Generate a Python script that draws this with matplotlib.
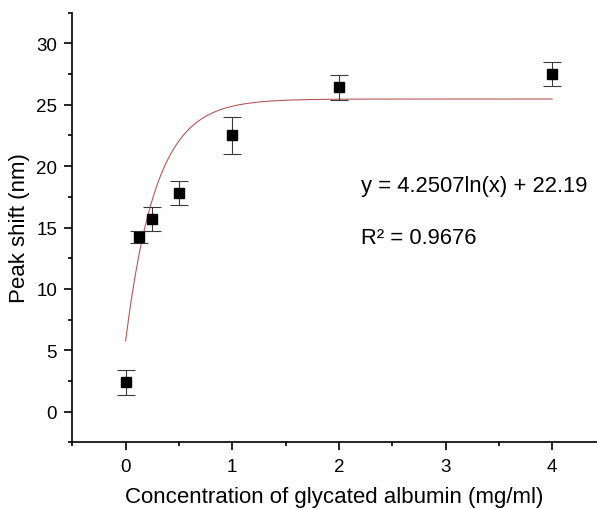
#!/usr/bin/env python
# -*- coding: utf-8 -*-

"""
Peak shift vs. glycated albumin concentration, with error bars and fitted curve.
"""

import matplotlib
matplotlib.use("Agg")
import matplotlib.pyplot as plt
import numpy as np
from matplotlib.ticker import MultipleLocator

# measured points
concentracion = [0, 0.125, 0.25, 0.5, 1, 2, 4]
desplazamiento = [2.4, 14.2, 15.7, 17.8, 22.5, 26.4, 27.5]
error = [1.0, 0.5, 1.0, 1.0, 1.5, 1.0, 1.0]

# parameters of the saturation fit  y = a - b * exp(-x / t)
fit_a = 25.46
fit_b = 19.7
fit_t = 0.285

texto_ecuacion = "y = 4.2507ln(x) + 22.19"
texto_r2 = "R² = 0.9676"


def grafica_desplazamiento(salida):
    """
    Draws the peak shift points with error bars and the fitted curve
    """
    plt.rcParams["font.family"] = ["Liberation Sans", "DejaVu Sans"]

    fig = plt.figure(figsize=(5.97, 5.10), dpi=100)
    ax = fig.add_axes([0.1211, 0.1304, 0.8789, 0.8431])

    # fitted curve from 0 to 4 mg/ml
    x_fit = np.linspace(0, max(concentracion), 400)
    y_fit = fit_a - fit_b * np.exp(-x_fit / fit_t)
    ax.plot(x_fit, y_fit, color="#b8575a", lw=0.8, zorder=2)

    # points with error bars
    ax.errorbar(concentracion, desplazamiento, yerr=error, fmt="none",
                ecolor="#3a3a3a", elinewidth=0.8, capsize=6.5, capthick=0.8,
                zorder=3)
    ax.plot(concentracion, desplazamiento, "s", color="black", ms=7,
            zorder=4)

    ax.text(2.21, 18.4, texto_ecuacion, fontsize=15.8, va="center", ha="left")
    ax.text(2.21, 14.2, texto_r2, fontsize=15.8, va="center", ha="left")

    ax.set_xlim(-0.5, 4.42)
    ax.set_ylim(-2.5, 32.5)
    ax.xaxis.set_major_locator(MultipleLocator(1))
    ax.xaxis.set_minor_locator(MultipleLocator(0.5))
    ax.yaxis.set_major_locator(MultipleLocator(5))
    ax.yaxis.set_minor_locator(MultipleLocator(2.5))

    ax.spines["top"].set_visible(False)
    ax.spines["right"].set_visible(False)
    ax.spines["left"].set_linewidth(1.2)
    ax.spines["bottom"].set_linewidth(1.2)

    ax.tick_params(which="major", direction="out", length=6, width=1.2,
                   labelsize=13.5, pad=5)
    ax.tick_params(which="minor", direction="out", length=3, width=1.2)

    ax.set_xlabel("Concentration of glycated albumin (mg/ml)", fontsize=16,
                  labelpad=8)
    ax.set_ylabel("Peak shift (nm)", fontsize=16, labelpad=4)

    fig.savefig(salida, dpi=100)


def main():
    grafica_desplazamiento("out.png")


if __name__ == "__main__":
    main()
